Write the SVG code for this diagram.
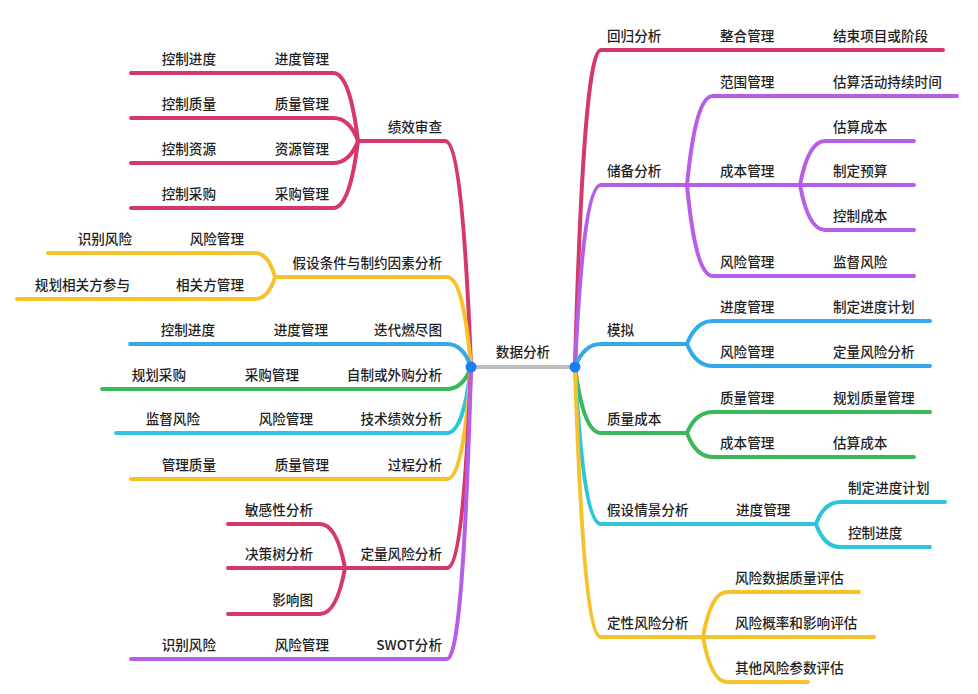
<svg xmlns="http://www.w3.org/2000/svg" width="978" height="694" viewBox="0 0 978 694">
<style>
.c{fill:none;stroke-width:4;stroke-linecap:round;stroke-linejoin:round}
.r{stroke:#d6386a}.p{stroke:#b65ee6}.b{stroke:#33a9ea}.g{stroke:#3cb85a}.cy{stroke:#2cc5db}.y{stroke:#f6c22b}
text{font-family:"Noto Sans CJK SC","Noto Sans",sans-serif;font-size:13.6px;font-weight:500;fill:#1f1f1f}
.e{text-anchor:end}
</style>
<rect width="978" height="694" fill="#ffffff"/>
<g id="connectors">
<path class="c r" d="M471,367 C465.8,231.4 458,141 445,141 H358"/>
<path class="c r" d="M358,141 C353,100.2 345.5,73 333,73 H131"/>
<path class="c r" d="M358,141 C353,127.2 345.5,118 333,118 H131"/>
<path class="c r" d="M358,141 C353,154.2 345.5,163 333,163 H131"/>
<path class="c r" d="M358,141 C353,181.2 345.5,208 333,208 H131"/>
<path class="c y" d="M471,367 C466.2,313 459,277 447,277 H275"/>
<path class="c y" d="M275,277 C271,262.6 265,253 255,253 H48"/>
<path class="c y" d="M275,277 C271,290.2 265,299 255,299 H17"/>
<path class="c b" d="M471,367 C466.2,353.2 459,344 447,344 H130"/>
<path class="c g" d="M471,367 C466.2,380.2 459,389 447,389 H102"/>
<path class="c cy" d="M471,367 C466.2,406.6 459,433 447,433 H116"/>
<path class="c y" d="M471,367 C466.2,434.2 459,479 447,479 H131"/>
<path class="c r" d="M471,367 C466.2,487.6 459,568 447,568 H345"/>
<path class="c r" d="M345,568 C340,541.6 332.5,524 320,524 H228"/>
<path class="c r" d="M345,568 H228"/>
<path class="c r" d="M345,568 C340,595.6 332.5,614 320,614 H228"/>
<path class="c p" d="M471,367 C466.2,542.2 459,659 447,659 H131"/>
<path class="c r" d="M575,367 C580.2,176.8 588,50 601,50 H943"/>
<path class="c p" d="M575,367 C580.2,257.8 588,185 601,185 H687"/>
<path class="c p" d="M687,185 C692.2,131.6 700,96 713,96 H957"/>
<path class="c p" d="M687,185 H800"/>
<path class="c p" d="M687,185 C692.2,239.6 700,276 713,276 H914"/>
<path class="c p" d="M800,185 C805,158.6 812.5,141 825,141 H914"/>
<path class="c p" d="M800,185 H914"/>
<path class="c p" d="M800,185 C805,212 812.5,230 825,230 H914"/>
<path class="c b" d="M575,367 C580.2,353.2 588,344 601,344 H687"/>
<path class="c b" d="M687,344 C692.2,330.2 700,321 713,321 H930"/>
<path class="c b" d="M687,344 C692.2,357.2 700,366 713,366 H930"/>
<path class="c g" d="M575,367 C580.2,406.6 588,433 601,433 H687"/>
<path class="c g" d="M687,433 C692.2,420.4 700,412 713,412 H930"/>
<path class="c g" d="M687,433 C692.2,447.4 700,457 713,457 H914"/>
<path class="c cy" d="M575,367 C580.2,461.2 588,524 601,524 H816"/>
<path class="c cy" d="M816,524 C820.8,510.8 828,502 840,502 H945"/>
<path class="c cy" d="M816,524 C820.8,537.8 828,547 840,547 H930"/>
<path class="c y" d="M575,367 C580.2,529 588,637 601,637 H703"/>
<path class="c y" d="M703,637 C707.8,610 715,592 727,592 H859"/>
<path class="c y" d="M703,637 H874"/>
<path class="c y" d="M703,637 C707.8,664 715,682 727,682 H808"/>
<path d="M471,367 H575" fill="none" stroke="#bdbdbd" stroke-width="4"/>
</g>
<g id="root">
<circle cx="471" cy="367" r="5.5" fill="#1a7ef2"/>
<circle cx="575" cy="367" r="5.5" fill="#1a7ef2"/>
<text x="523" y="357" text-anchor="middle">数据分析</text>
</g>
<g id="left-jixiao">
<text class="e" x="442" y="132">绩效审查</text>
<text class="e" x="329" y="64">进度管理</text><text class="e" x="216" y="64">控制进度</text>
<text class="e" x="329" y="109">质量管理</text><text class="e" x="216" y="109">控制质量</text>
<text class="e" x="329" y="154">资源管理</text><text class="e" x="216" y="154">控制资源</text>
<text class="e" x="329" y="199">采购管理</text><text class="e" x="216" y="199">控制采购</text>
</g>
<g id="left-jiashe">
<text class="e" x="442" y="268">假设条件与制约因素分析</text>
<text class="e" x="244" y="244">风险管理</text><text class="e" x="132" y="244">识别风险</text>
<text class="e" x="244" y="290">相关方管理</text><text class="e" x="130" y="290">规划相关方参与</text>
</g>
<g id="left-diedai">
<text class="e" x="442" y="335">迭代燃尽图</text><text class="e" x="328" y="335">进度管理</text><text class="e" x="215" y="335">控制进度</text>
</g>
<g id="left-zizhi">
<text class="e" x="442" y="380">自制或外购分析</text><text class="e" x="299" y="380">采购管理</text><text class="e" x="186" y="380">规划采购</text>
</g>
<g id="left-jishu">
<text class="e" x="442" y="424">技术绩效分析</text><text class="e" x="313" y="424">风险管理</text><text class="e" x="200" y="424">监督风险</text>
</g>
<g id="left-guocheng">
<text class="e" x="442" y="470">过程分析</text><text class="e" x="329" y="470">质量管理</text><text class="e" x="216" y="470">管理质量</text>
</g>
<g id="left-dingliang">
<text class="e" x="442" y="559">定量风险分析</text>
<text class="e" x="313" y="515">敏感性分析</text>
<text class="e" x="313" y="559">决策树分析</text>
<text class="e" x="313" y="605">影响图</text>
</g>
<g id="left-swot">
<text class="e" x="442" y="650">SWOT分析</text><text class="e" x="329" y="650">风险管理</text><text class="e" x="216" y="650">识别风险</text>
</g>
<g id="right-huigui">
<text x="607" y="41">回归分析</text><text x="720" y="41">整合管理</text><text x="833" y="41">结束项目或阶段</text>
</g>
<g id="right-chubei">
<text x="607" y="176">储备分析</text>
<text x="720" y="87">范围管理</text><text x="833" y="87">估算活动持续时间</text>
<text x="720" y="176">成本管理</text>
<text x="833" y="132">估算成本</text><text x="833" y="176">制定预算</text><text x="833" y="221">控制成本</text>
<text x="720" y="267">风险管理</text><text x="833" y="267">监督风险</text>
</g>
<g id="right-moni">
<text x="607" y="335">模拟</text>
<text x="720" y="312">进度管理</text><text x="833" y="312">制定进度计划</text>
<text x="720" y="357">风险管理</text><text x="833" y="357">定量风险分析</text>
</g>
<g id="right-zhiliang">
<text x="607" y="424">质量成本</text>
<text x="720" y="403">质量管理</text><text x="833" y="403">规划质量管理</text>
<text x="720" y="448">成本管理</text><text x="833" y="448">估算成本</text>
</g>
<g id="right-qingjing">
<text x="607" y="515">假设情景分析</text><text x="736" y="515">进度管理</text>
<text x="848" y="493">制定进度计划</text><text x="848" y="538">控制进度</text>
</g>
<g id="right-dingxing">
<text x="607" y="628">定性风险分析</text>
<text x="735" y="583">风险数据质量评估</text>
<text x="735" y="628">风险概率和影响评估</text>
<text x="735" y="673">其他风险参数评估</text>
</g>
</svg>
